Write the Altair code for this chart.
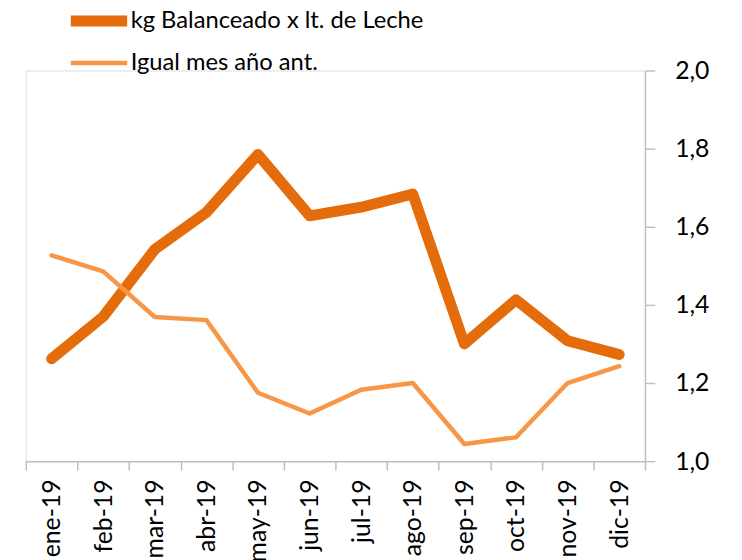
import altair as alt
import pandas as pd

months = ["ene-19", "feb-19", "mar-19", "abr-19", "may-19", "jun-19",
          "jul-19", "ago-19", "sep-19", "oct-19", "nov-19", "dic-19"]
kg_balanceado = [1.262, 1.370, 1.542, 1.637, 1.785, 1.628,
                 1.650, 1.684, 1.300, 1.413, 1.308, 1.273]
igual_mes = [1.527, 1.486, 1.369, 1.361, 1.175, 1.122,
             1.183, 1.200, 1.044, 1.061, 1.200, 1.243]

s1 = "kg Balanceado x lt. de Leche"
s2 = "Igual mes año ant."
series_names = [s1, s2]
colors = ["#E46C0A", "#F79646"]
widths = [11, 4.5]

df1 = pd.DataFrame({"mes": months, "valor": kg_balanceado, "serie": s1})
df2 = pd.DataFrame({"mes": months, "valor": igual_mes, "serie": s2})

FONT = "Lato"
FS_AXIS = 25
FS_LEG = 24

x_enc = alt.X("mes:N", sort=months, title=None,
              scale=alt.Scale(paddingInner=0, paddingOuter=0),
              axis=alt.Axis(labelAngle=-90, labelFontSize=FS_AXIS, labelFont=FONT,
                            labelColor="#000000", labelPadding=9,
                            tickColor="#BFBFBF", tickSize=9, tickWidth=1.5,
                            domainColor="#BFBFBF", domainWidth=1.5,
                            tickBand="extent", grid=False))
y_enc = alt.Y("valor:Q", title=None,
              scale=alt.Scale(domain=[1.0, 2.0], nice=False, zero=False),
              axis=alt.Axis(orient="right", values=[1.0, 1.2, 1.4, 1.6, 1.8, 2.0],
                            labelExpr="replace(format(datum.value, '.1f'), '.', ',')",
                            labelFontSize=FS_AXIS, labelFont=FONT, labelColor="#000000",
                            labelPadding=20, tickColor="#BFBFBF", tickSize=10,
                            tickWidth=1.5, domainColor="#BFBFBF", domainWidth=1.5,
                            grid=False))

def make_legend():
    return alt.Legend(title=None, orient="none", legendX=54, legendY=-70,
                      symbolType="M-2,0H2", symbolSize=812,
                      labelFontSize=FS_LEG, labelFont=FONT, labelLimit=600,
                      labelColor="#000000", rowPadding=4,
                      labelOffset=12, padding=0)

color_enc = alt.Color("serie:N",
                      scale=alt.Scale(domain=series_names, range=colors),
                      legend=make_legend())
sw_enc = alt.StrokeWidth("serie:N",
                         scale=alt.Scale(domain=series_names, range=widths),
                         legend=make_legend())

thick = alt.Chart(df1).mark_line(strokeCap="round", strokeJoin="round").encode(
    x=x_enc, y=y_enc, color=color_enc, strokeWidth=sw_enc)
thin = alt.Chart(df2).mark_line(strokeCap="round", strokeJoin="round").encode(
    x=x_enc, y=y_enc, color=color_enc, strokeWidth=sw_enc)

chart = alt.layer(thick, thin).properties(
    width=626, height=395,
    autosize=alt.AutoSizeParams(type="none"),
    padding={"left": 18, "top": 60, "right": 90, "bottom": 120},
).configure_view(stroke=None).configure(background="#FFFFFF")

chart.save("out.html", embed_options={"renderer": "svg", "actions": False})
